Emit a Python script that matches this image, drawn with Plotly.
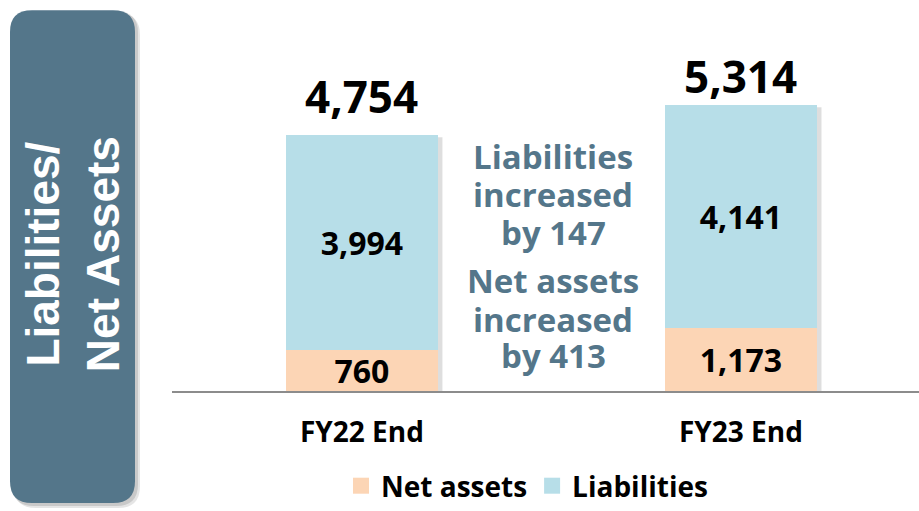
import plotly.graph_objects as go

# ---- data ----
categories = ["FY22 End", "FY23 End"]
net_assets = [760, 1173]
liabilities = [3994, 4141]
totals = [4754, 5314]
series_names = ["Net assets", "Liabilities"]
panel_lines = ["Liabilities/", "Net Assets"]
middle_lines = ["Liabilities", "increased", "by 147", "Net assets", "increased", "by 413"]

# ---- style ----
W, H = 919, 511
ML, MR, MT, MB = 172, 0, 40, 117
PW, PH = W - ML - MR, H - MT - MB
C_NET = "#FCD5B5"
C_LIA = "#B7DEE8"
C_PANEL = "#54768A"
FONT = "Open Sans"
BAR_W = 0.401
Y_MAX = 6523
X_RANGE = [-0.501, 1.4697]
total_shift = [39, 29]


def px(x):
    return (x - ML) / PW


def py(y):
    return (H - MB - y) / PH


def rounded_rect(x0, y0, x1, y1, r):
    pts = [
        f"M{px(x0 + r)},{py(y0)}",
        f"L{px(x1 - r)},{py(y0)}",
        f"Q{px(x1)},{py(y0)} {px(x1)},{py(y0 + r)}",
        f"L{px(x1)},{py(y1 - r)}",
        f"Q{px(x1)},{py(y1)} {px(x1 - r)},{py(y1)}",
        f"L{px(x0 + r)},{py(y1)}",
        f"Q{px(x0)},{py(y1)} {px(x0)},{py(y1 - r)}",
        f"L{px(x0)},{py(y0 + r)}",
        f"Q{px(x0)},{py(y0)} {px(x0 + r)},{py(y0)}",
        "Z",
    ]
    return " ".join(pts)


fig = go.Figure()

fig.add_trace(go.Bar(
    x=categories, y=net_assets, name=series_names[0], marker=dict(color=C_NET, line=dict(width=0)),
    width=BAR_W, text=[f"{v:,}" for v in net_assets], textposition="inside",
    insidetextanchor="middle", constraintext="none", textangle=0,
    textfont=dict(family=FONT, size=32, color="black", weight="bold"),
    showlegend=False, hoverinfo="skip",
))
fig.add_trace(go.Bar(
    x=categories, y=liabilities, name=series_names[1], marker=dict(color=C_LIA, line=dict(width=0)),
    width=BAR_W, text=[f"{v:,}" for v in liabilities], textposition="inside",
    insidetextanchor="middle", constraintext="none", textangle=0,
    textfont=dict(family=FONT, size=32, color="black", weight="bold"),
    showlegend=False, hoverinfo="skip",
))
# legend entries
for nm, col in zip(series_names, [C_NET, C_LIA]):
    fig.add_trace(go.Scatter(x=[None], y=[None], mode="markers", name=nm,
                             marker=dict(symbol="square", size=16, color=col)))

shapes = []
# panel shadow + panel
shapes.append(dict(type="path", xref="paper", yref="paper", path=rounded_rect(14, 13, 140, 512, 22),
                   fillcolor="rgba(0,0,0,0.10)", line=dict(width=0), layer="below"))
shapes.append(dict(type="path", xref="paper", yref="paper", path=rounded_rect(12, 11, 138, 510, 22),
                   fillcolor="rgba(0,0,0,0.12)", line=dict(width=0), layer="below"))
shapes.append(dict(type="path", xref="paper", yref="paper", path=rounded_rect(10, 10, 135, 507, 22),
                   fillcolor=C_PANEL, line=dict(width=0), layer="below"))
# bar shadows
for i, t in enumerate(totals):
    shapes.append(dict(type="rect", xref="x", yref="y",
                       x0=i - BAR_W / 2 + 0.006, x1=i + BAR_W / 2 + 0.012, y0=0, y1=t - 40,
                       fillcolor="rgba(0,0,0,0.13)", line=dict(width=0), layer="below"))

annotations = []
# panel text
annotations.append(dict(xref="paper", yref="paper", x=px(73), y=py(256), xanchor="center", yanchor="middle",
                        text="<br>".join(panel_lines), textangle=-90, showarrow=False,
                        font=dict(family="Liberation Sans", size=46, color="white", weight="bold")))
# totals
for i, t in enumerate(totals):
    annotations.append(dict(xref="x", yref="y", x=categories[i], y=t, yanchor="middle", yshift=total_shift[i],
                            text=f"{t:,}", showarrow=False,
                            font=dict(family=FONT, size=44, color="black", weight="bold")))
# middle text
mid_y = [157, 196, 234, 283, 322, 358]
for txt, yy in zip(middle_lines, mid_y):
    annotations.append(dict(xref="paper", yref="paper", x=px(553), y=py(yy), xanchor="center", yanchor="middle",
                            text=txt, showarrow=False,
                            font=dict(family=FONT, size=33, color=C_PANEL, weight="bold")))

fig.update_layout(
    width=W, height=H, margin=dict(l=ML, r=MR, t=MT, b=MB),
    barmode="stack", plot_bgcolor="white", paper_bgcolor="white",
    shapes=shapes, annotations=annotations,
    showlegend=True,
    legend=dict(orientation="h", x=px(527), xanchor="center", y=py(490), yanchor="middle",
                traceorder="normal",
                font=dict(family=FONT, size=28, color="black", weight="bold"),
                itemwidth=30, bgcolor="rgba(0,0,0,0)", tracegroupgap=0),
    xaxis=dict(range=X_RANGE, showline=True, linecolor="#8C8C8C", linewidth=2, showgrid=False,
               ticks="", zeroline=False, ticklabelstandoff=15,
               tickfont=dict(family=FONT, size=28, color="black", weight="bold")),
    yaxis=dict(range=[0, Y_MAX], visible=False, showgrid=False, zeroline=False),
)

fig.write_html("out.html", config={"displayModeBar": False},
               post_script="document.body.style.margin='0';document.body.style.overflow='hidden';")
